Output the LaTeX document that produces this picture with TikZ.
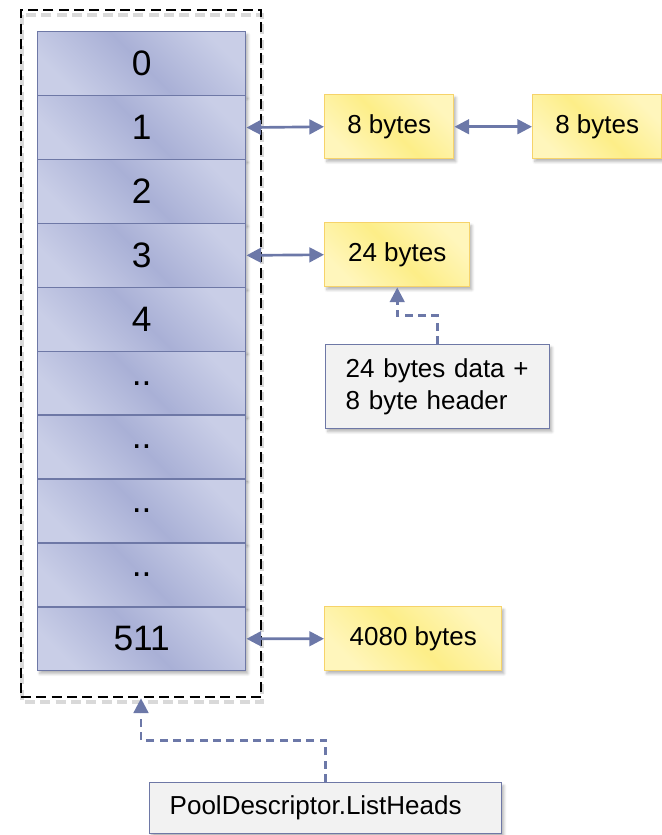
\documentclass[tikz,border=0pt]{standalone}
\usepackage{fontspec}
\setmainfont{Liberation Sans}
\usetikzlibrary{arrows.meta,calc,shadows.blur}

\definecolor{cellmid}{HTML}{A9B0D6}
\definecolor{celllight}{HTML}{C9CEE7}
\definecolor{cellline}{HTML}{6E78A6}
\definecolor{yelmid}{HTML}{FDEE88}
\definecolor{yellight}{HTML}{FFF6BC}
\definecolor{yelline}{HTML}{F6D36A}
\definecolor{notefill}{HTML}{F2F2F2}
\definecolor{linkcol}{HTML}{6C78A8}

\tikzset{
  softshadow/.style={blur shadow={shadow xshift=1.6pt, shadow yshift=-2.2pt,
      shadow blur steps=6, shadow blur radius=2pt, shadow opacity=30}},
  cell/.style={draw=cellline, line width=1.1pt, anchor=north west,
      left color=celllight, right color=celllight, middle color=cellmid,
      shading angle=135, minimum width={208*0.75pt}, minimum height={63.9*0.75pt},
      inner sep=0pt, font=\fontsize{26.5}{30}\selectfont, softshadow},
  block/.style={draw=yelline, line width=1.1pt, anchor=north west,
      left color=yellight, right color=yellight, middle color=yelmid,
      shading angle=135, minimum height={64*0.75pt}, inner sep=0pt,
      font=\fontsize{19.5}{23.75}\selectfont, softshadow},
  note/.style={draw=cellline, line width=1.1pt, fill=notefill, anchor=north west,
      inner xsep={20*0.75pt}, inner ysep=0pt, align=left,
      font=\fontsize{19.5}{23.75}\selectfont, softshadow},
  tip/.style={Triangle[length=11pt,width=11pt]},
  link/.style={draw=linkcol, line width=2pt, {Triangle[length=11pt,width=11pt]}-{Triangle[length=11pt,width=11pt]}},
  ptr/.style={draw=linkcol, line width=2pt, dash pattern=on 6pt off 4pt,
      -{Triangle[length=11pt,width=11pt]}},
  frame/.style={draw=black, line width=2pt, dash pattern=on 7.5pt off 4pt},
}

\begin{document}
\begin{tikzpicture}[x=0.75pt,y=-0.75pt]
\useasboundingbox (0,0) rectangle (661,835);

% dashed outline around the list heads, with a faint offset echo below it
\draw[gray!30, line width=2.6pt, dash pattern=on 7.5pt off 4pt]
  (22,15) rectangle (262,702);
\node[frame, minimum width={240*0.75pt}, minimum height={687*0.75pt},
      inner sep=0pt] (frame) at (141,353.5) {};

% the 512 list heads
\node[cell] (c0) at (37,31)    {0};
\node[cell] (c1) at (37,94.9)  {1};
\node[cell] (c2) at (37,158.8) {2};
\node[cell] (c3) at (37,222.7) {3};
\node[cell] (c4) at (37,286.6) {4};
\node[cell] (c5) at (37,350.5) {..};
\node[cell] (c6) at (37,414.4) {..};
\node[cell] (c7) at (37,478.3) {..};
\node[cell] (c8) at (37,542.2) {..};
\node[cell] (c9) at (37,606.1) {511};

% free blocks hanging off the lists
\node[block, minimum width={129*0.75pt}] (b1a) at (324,94)  {8 bytes};
\node[block, minimum width={129*0.75pt}] (b1b) at (532,94)  {8 bytes};
\node[block, minimum width={145*0.75pt}] (b3)  at (324,222) {24 bytes};
\node[block, minimum width={177*0.75pt}] (b9)  at (324,606) {4080 bytes};

% annotations
\node[note, text width={184*0.75pt}, minimum height={84*0.75pt}] (hdr) at (325,344)
  {24 bytes data +\\8 byte header};
\node[note, text width={312*0.75pt}, minimum height={51*0.75pt}] (heads) at (149,782)
  {PoolDescriptor.ListHeads};

% list links
\draw[link] (c1.east) -- (b1a.west);
\draw[link] (b1a.east) -- (b1b.west);
\draw[link] (c3.east) -- (b3.west);
\draw[link] (c9.east) -- (b9.west);

% annotation pointers
\draw[ptr] (hdr.north) |- ($(hdr.north)!0.5!(b3.south)$) -| (b3.south);
\draw[ptr] (heads.north) |- ($(heads.north)!0.5!(frame.south)$) -| (frame.south);
\end{tikzpicture}
\end{document}
